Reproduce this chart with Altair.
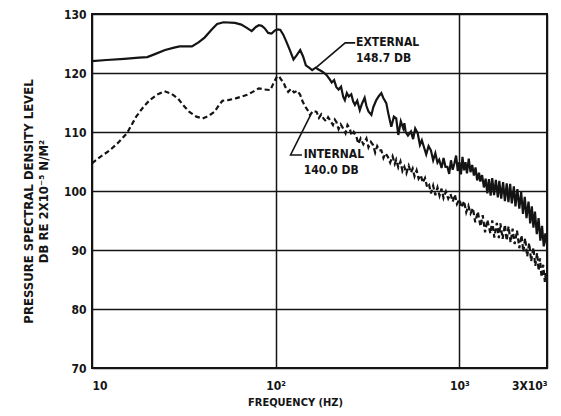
import altair as alt
import pandas as pd

# External microphone spectrum (frequency in Hz, level in dB)
ext_freq = [10, 12, 15, 18, 20, 22, 25, 28, 30, 35, 38, 41, 45, 48, 52, 60, 65, 70, 74, 78,
            81, 84, 87, 91, 95, 99, 103, 106, 110, 114, 119, 125, 130, 136, 141, 146, 152, 158, 165, 171,
            178, 184, 190, 196, 202, 208, 214, 220, 227, 233, 238, 244, 250, 258, 264, 270, 278, 287, 295, 305,
            312, 320, 332, 340, 353, 365, 376, 385, 400, 410, 426, 440, 453, 465, 480, 495, 502, 510, 525, 545,
            560, 575, 593, 610, 625, 645, 660, 680, 700, 720, 740, 760, 777, 800, 820, 840, 861, 880, 900, 920,
            940, 960, 980, 1000, 1020, 1040, 1060, 1080, 1100, 1125, 1150, 1175, 1200, 1225, 1250, 1280, 1300, 1330, 1360, 1390,
            1420, 1450, 1480, 1510, 1545, 1580, 1620, 1650, 1690, 1730, 1770, 1810, 1850, 1890, 1930, 1980, 2020, 2070, 2120, 2170,
            2220, 2270, 2320, 2380, 2430, 2480, 2530, 2580, 2640, 2700, 2760, 2820, 2880, 2940, 3000]
ext_db = [122.0, 122.2, 122.4, 122.6, 122.7, 123.2, 123.9, 124.3, 124.5, 124.5, 125.2, 126.0, 127.4, 128.3, 128.6, 128.5, 128.2, 127.6, 127.1, 127.8,
          128.1, 128.0, 127.6, 126.8, 126.7, 127.2, 127.4, 127.3, 126.5, 125.4, 124.0, 122.3, 123.0, 123.9, 122.8, 121.3, 120.9, 120.5, 120.9, 120.6,
          120.3, 120.0, 119.6, 119.0, 118.4, 118.8, 117.6, 117.2, 117.7, 116.0, 115.4, 116.6, 116.0, 116.4, 115.2, 114.6, 115.3, 113.7, 114.8, 115.8,
          114.4, 113.5, 112.9, 114.2, 115.4, 116.1, 116.6, 115.8, 114.9, 113.2, 110.9, 112.6, 112.3, 109.5, 111.8, 110.6, 111.5, 110.0, 109.4, 110.1,
          108.8, 110.6, 109.8, 107.8, 108.6, 107.2, 106.2, 107.6, 106.9, 105.2, 106.4, 104.8, 105.3, 103.9, 105.6, 104.1, 104.1, 102.9, 105.2, 103.6,
          104.7, 106.0, 103.4, 104.9, 102.8, 105.8, 103.5, 104.9, 103.0, 105.5, 103.2, 104.4, 102.6, 104.0, 101.8, 103.1, 101.6, 102.7, 100.6, 102.1,
          99.6, 102.0, 99.2, 102.2, 99.3, 101.9, 98.9, 101.7, 98.7, 101.5, 98.3, 101.3, 98.1, 101.2, 97.9, 100.8, 97.4, 100.3, 97.0, 99.8,
          96.1, 99.0, 95.4, 98.2, 94.5, 97.4, 93.8, 96.5, 92.7, 95.4, 91.6, 94.1, 90.6, 92.8, 90.8]

# Internal microphone spectrum
int_freq = [10, 11, 12.5, 14, 15.5, 17.4, 19, 20.6, 22.5, 24.8, 27, 29.3, 31.5, 33.9, 37, 40, 43, 46.3, 49, 51.3,
            55, 60.6, 65, 70, 75, 80.9, 87, 93.6, 97, 101.6, 104, 107, 110, 113, 117, 121, 126, 131, 136, 140,
            145, 150, 154, 160, 167, 172, 177, 182, 188, 193, 198, 205, 210, 214, 220, 226, 233, 240, 246, 253,
            259, 266, 275, 282, 290, 300, 312, 320, 330, 339, 348, 357, 367, 376, 386, 396, 408, 420, 433, 445,
            453, 465, 478, 490, 502, 515, 530, 545, 557, 570, 585, 600, 617, 632, 650, 668, 685, 700, 720, 740,
            760, 780, 800, 820, 845, 870, 895, 920, 945, 970, 1000, 1030, 1060, 1090, 1120, 1151, 1185, 1220, 1260, 1303,
            1340, 1380, 1420, 1476, 1510, 1550, 1600, 1640, 1672, 1720, 1770, 1810, 1853, 1900, 1950, 2000, 2060, 2120, 2180, 2230,
            2281, 2340, 2400, 2460, 2530, 2590, 2650, 2700, 2748, 2800, 2860, 2920, 2960, 3000]
int_db = [104.7, 105.7, 106.9, 108.3, 109.8, 112.6, 114.2, 115.4, 116.3, 116.9, 116.5, 115.7, 114.5, 113.4, 112.6, 112.3, 112.7, 113.4, 114.5, 115.3,
          115.4, 115.7, 116.0, 116.3, 116.8, 117.4, 117.2, 117.1, 118.2, 119.4, 119.5, 118.9, 118.5, 117.6, 116.8, 117.3, 116.7, 117.0, 116.3, 115.2,
          114.3, 113.6, 112.9, 113.6, 113.4, 112.4, 113.0, 112.3, 111.8, 112.5, 112.0, 111.2, 112.1, 111.7, 110.5, 111.3, 110.6, 109.8, 111.2, 110.6,
          109.4, 110.0, 109.2, 108.0, 108.9, 107.9, 108.9, 107.4, 108.3, 107.8, 106.5, 107.6, 106.9, 106.9, 105.6, 106.4, 105.8, 104.8, 105.9, 104.6,
          105.3, 104.0, 105.0, 103.4, 104.1, 103.0, 104.3, 103.1, 103.8, 102.5, 103.5, 102.1, 102.7, 101.4, 102.2, 100.6, 101.0, 99.6, 100.9, 99.3,
          100.6, 99.2, 100.4, 98.8, 99.9, 98.7, 99.5, 98.2, 99.4, 97.8, 98.6, 97.2, 98.3, 96.4, 97.5, 96.2, 97.1, 94.7, 96.5, 94.0,
          95.9, 93.0, 95.1, 92.8, 95.0, 92.1, 94.6, 92.0, 94.5, 91.9, 94.3, 91.6, 94.0, 91.3, 93.6, 91.0, 93.3, 90.3, 92.5, 89.7,
          92.0, 88.9, 91.2, 88.1, 90.4, 87.3, 89.5, 86.5, 88.6, 85.4, 87.5, 84.6, 86.2, 84.5]

# Curve labels and their leader lines
label_text = ["EXTERNAL", "148.7 DB", "INTERNAL", "140.0 DB"]
label_freq = [274, 274, 142, 142]
label_db = [125.2, 122.5, 106.2, 103.5]

leader_group = ["ext", "ext", "ext", "int", "int", "int"]
leader_order = [0, 1, 2, 0, 1, 2]
leader_freq = [271, 239, 164, 155, 120.5, 139]
leader_db = [125.1, 125.1, 120.8, 112.9, 106.1, 106.1]

x_ticks = [10, 100, 1000, 3000]
y_ticks = [70, 80, 90, 100, 110, 120, 130]

ext_df = pd.DataFrame({"freq": ext_freq, "db": ext_db})
int_df = pd.DataFrame({"freq": int_freq, "db": int_db})
lab_df = pd.DataFrame({"freq": label_freq, "db": label_db, "text": label_text})
lead_df = pd.DataFrame({"freq": leader_freq, "db": leader_db, "g": leader_group, "o": leader_order})

FONT = "DejaVu Sans Condensed"
INK = "#141414"

x_enc = alt.X(
    "freq:Q",
    scale=alt.Scale(type="log", domain=[10, 3000], nice=False),
    axis=alt.Axis(
        values=x_ticks,
        labelExpr="datum.value == 10 ? '10' : datum.value == 100 ? '10²' : datum.value == 1000 ? '10³' : '3X10³'",
        title="FREQUENCY (HZ)",
        titleX=203,
        titleY=34,
        titleBaseline="middle",
        labelPadding=12,
    ),
)
y_enc = alt.Y(
    "db:Q",
    scale=alt.Scale(domain=[70, 130], nice=False),
    axis=alt.Axis(
        values=y_ticks,
        title=["PRESSURE SPECTRAL DENSITY LEVEL", "DB RE 2X10⁻⁵ N/M²"],
        titleX=-64,
        titleY=187,
        titleAngle=-90,
        titleAlign="center",
        titleBaseline="middle",
        titleFontSize=13,
        labelPadding=6,
    ),
)

external = alt.Chart(ext_df).mark_line(color=INK, strokeWidth=2.2).encode(x=x_enc, y=y_enc)
internal = alt.Chart(int_df).mark_line(color=INK, strokeWidth=2.2, strokeDash=[5, 3]).encode(
    x="freq:Q", y="db:Q"
)
leaders = alt.Chart(lead_df).mark_line(color=INK, strokeWidth=1.6).encode(
    x="freq:Q", y="db:Q", detail="g:N", order="o:Q"
)
labels = alt.Chart(lab_df).mark_text(
    align="left", baseline="middle", font=FONT, fontSize=12, fontWeight="bold", color=INK
).encode(x="freq:Q", y="db:Q", text="text:N")

chart = (
    alt.layer(external, internal, leaders, labels)
    .properties(
        width=455,
        height=354,
        autosize=alt.AutoSizeParams(type="none"),
        padding={"left": 92, "top": 14, "right": 14, "bottom": 48},
        background="white",
    )
    .configure_view(stroke=INK, strokeWidth=2)
    .configure_axis(
        grid=True,
        gridColor=INK,
        gridWidth=1.5,
        gridOpacity=1,
        domain=False,
        ticks=False,
        labelFont=FONT,
        labelFontSize=12,
        labelFontWeight="bold",
        labelColor=INK,
        titleFont=FONT,
        titleFontSize=11,
        titleFontWeight="bold",
        titleColor=INK,
    )
)

chart.save("out.html", embed_options={"renderer": "svg", "actions": False})
